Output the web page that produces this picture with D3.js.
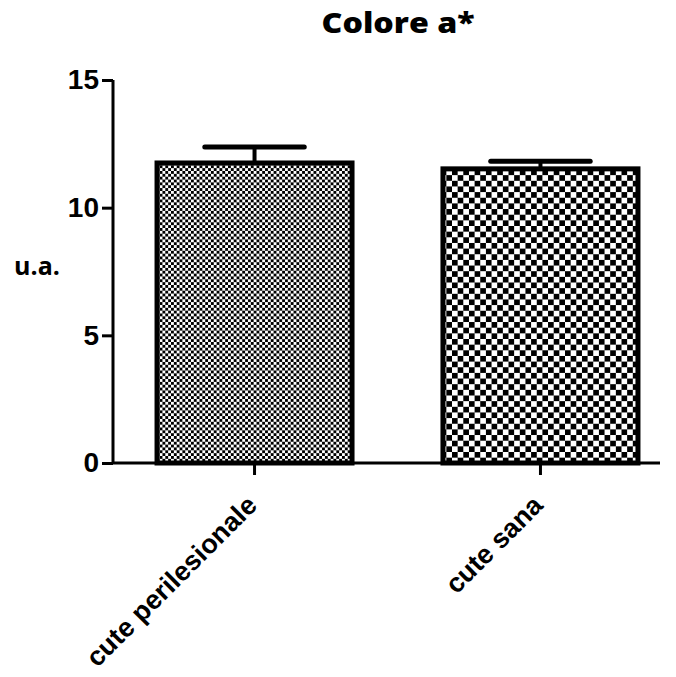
<!DOCTYPE html>
<html>
<head>
<meta charset="utf-8">
<script src="https://cdn.jsdelivr.net/npm/d3@7"></script>
<style>
  body { margin: 0; background: #fff; }
  svg { display: block; }
</style>
</head>
<body>
<svg id="chart" width="676" height="677"></svg>
<script>
// Bar chart: mean colour value a* with SEM error bars
const categories = ["cute perilesionale", "cute sana"];
const means = [11.75, 11.52];
const errors = [0.63, 0.30];
const yTicks = [0, 5, 10, 15];
const title = "Colore a*";
const yLabel = "u.a.";

const svg = d3.select("#chart");
const m = { left: 113, top: 80, bottom: 463, axisEnd: 660 };

// Band layout: step 286px, bar width 195px, first bar starting at x=157
const x = d3.scaleBand()
  .domain(categories)
  .range([m.left, 682])
  .paddingInner(0.318)
  .paddingOuter(0.154);

const y = d3.scaleLinear().domain([0, 15]).range([m.bottom, m.top]);

// Checkerboard fills: fine and coarse
const defs = svg.append("defs");
function checker(id, s) {
  const p = defs.append("pattern")
    .attr("id", id)
    .attr("patternUnits", "userSpaceOnUse")
    .attr("width", 2 * s).attr("height", 2 * s);
  p.append("rect").attr("width", 2 * s).attr("height", 2 * s).attr("fill", "#fff");
  p.append("rect").attr("width", s).attr("height", s).attr("fill", "#000");
  p.append("rect").attr("x", s).attr("y", s).attr("width", s).attr("height", s).attr("fill", "#000");
}
checker("chk-fine", 2.85);
checker("chk-coarse", 5.65);
const fills = ["url(#chk-fine)", "url(#chk-coarse)"];

const data = categories.map((c, i) => ({ c, v: means[i], e: errors[i], fill: fills[i] }));

// Error bars (drawn under the bar outline)
const capW = x.bandwidth() * 0.51;
const eg = svg.append("g").attr("stroke", "#000").attr("stroke-linecap", "round");
data.forEach(d => {
  const cx = x(d.c) + x.bandwidth() / 2;
  eg.append("line")
    .attr("x1", cx).attr("x2", cx)
    .attr("y1", y(d.v)).attr("y2", y(d.v + d.e))
    .attr("stroke-width", 4);
  eg.append("line")
    .attr("x1", cx - capW / 2).attr("x2", cx + capW / 2)
    .attr("y1", y(d.v + d.e)).attr("y2", y(d.v + d.e))
    .attr("stroke-width", 5);
});

// Bars
svg.append("g").selectAll("rect")
  .data(data)
  .join("rect")
  .attr("x", d => x(d.c))
  .attr("y", d => y(d.v))
  .attr("width", x.bandwidth())
  .attr("height", d => y(0) - y(d.v))
  .attr("fill", d => d.fill)
  .attr("stroke", "#000")
  .attr("stroke-width", 5);

// Y axis
const yAxis = svg.append("g")
  .attr("transform", `translate(${m.left},0)`)
  .call(d3.axisLeft(y).tickValues(yTicks).tickSize(11).tickPadding(3));
yAxis.select(".domain").attr("stroke-width", 3).attr("d", `M0,${y(15)}V${y(0)}`);
yAxis.selectAll(".tick line").attr("stroke-width", 3);
yAxis.selectAll(".tick text")
  .attr("font-family", "Liberation Sans, Arial, sans-serif")
  .attr("font-weight", "bold")
  .attr("font-size", 28)
  .attr("fill", "#000");

// X axis
const xAxis = svg.append("g")
  .attr("transform", `translate(0,${y(0)})`)
  .call(d3.axisBottom(x).tickSize(12).tickPadding(6));
xAxis.select(".domain").attr("stroke-width", 3).attr("d", `M${m.left},0H${m.axisEnd}`);
xAxis.selectAll(".tick line").attr("stroke-width", 3);
xAxis.selectAll(".tick text")
  .attr("font-family", "Liberation Sans, Arial, sans-serif")
  .attr("font-weight", "bold")
  .attr("font-size", 27)
  .attr("fill", "#000")
  .attr("text-anchor", "end")
  .attr("x", 0).attr("y", 0).attr("dy", 0)
  .attr("transform", "translate(4,44) rotate(-45)");

// Title
svg.append("text")
  .attr("x", 398).attr("y", 33)
  .attr("text-anchor", "middle")
  .attr("font-family", "'Open Sans', Lato, sans-serif")
  .attr("font-weight", 800)
  .attr("font-size", 29)
  .attr("textLength", 153)
  .attr("lengthAdjust", "spacingAndGlyphs")
  .text(title);

// Y label
svg.append("text")
  .attr("x", 37).attr("y", 275)
  .attr("text-anchor", "middle")
  .attr("font-family", "'Open Sans', Lato, sans-serif")
  .attr("font-weight", "bold")
  .attr("font-size", 25)
  .text(yLabel);
</script>
</body>
</html>
